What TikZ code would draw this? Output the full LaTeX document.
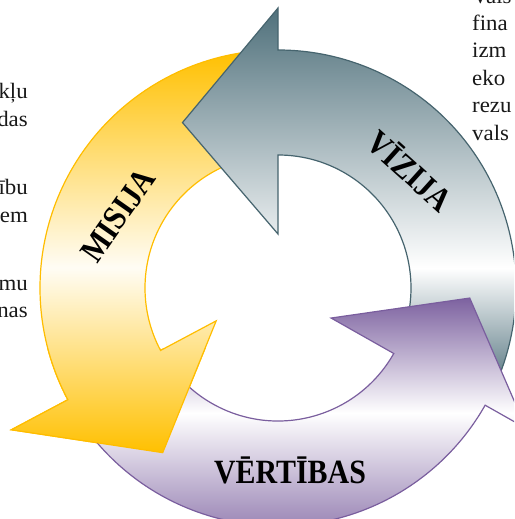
\documentclass[tikz,border=0pt]{standalone}
\usepackage{fontspec}
\setmainfont{Liberation Serif}
\newfontfamily\cyclefont[FakeStretch=0.88]{Liberation Serif}
\newfontfamily\bodyfont[FakeStretch=1.04]{Liberation Serif}
\usetikzlibrary{positioning}
\definecolor{Gold}{HTML}{FFC000}
\definecolor{GoldEdge}{HTML}{FFBD00}
\definecolor{Slate}{HTML}{4F707B}
\definecolor{SlateEdge}{HTML}{46646E}
\definecolor{Plum}{HTML}{7D62A0}
\definecolor{PlumEdge}{HTML}{7A5E9E}
\pgfdeclareverticalshading{goldshade}{100bp}{color(0bp)=(Gold); color(25bp)=(Gold); color(48bp)=(white!96!Gold); color(75bp)=(Gold); color(100bp)=(Gold)}
\pgfdeclareverticalshading{slateshade}{100bp}{color(0bp)=(Slate); color(25bp)=(Slate); color(41bp)=(white); color(75bp)=(Slate); color(100bp)=(Slate)}
\pgfdeclareverticalshading{plumshade}{100bp}{color(0bp)=(Plum); color(25bp)=(Plum); color(53bp)=(white); color(75bp)=(Plum); color(100bp)=(Plum)}
\newcommand{\ringarrow}[6]{(#1:238) arc[start angle=#1,end angle=#2,radius=238] -- (#2:#4) -- (#3:#5) -- (#2:#6) -- (#2:133) arc[start angle=#2,end angle=#1,radius=133] -- cycle}

\begin{document}
\begin{tikzpicture}[x=1pt,y=1pt,
  goldarrow/.style={draw=GoldEdge,line width=1.2pt,shade,shading=goldshade},
  slatearrow/.style={draw=SlateEdge,line width=1.2pt,shade,shading=slateshade},
  plumarrow/.style={draw=PlumEdge,line width=1.2pt,shade,shading=plumshade},
  cyclelabel/.style={font=\cyclefont\bfseries\fontsize{34}{34}\selectfont,inner sep=0pt,text=black},
  bodyline/.style={font=\bodyfont\fontsize{22}{26}\selectfont,inner sep=0pt,text=black!90}]
\clip (-278,-231) rectangle (236,288);
\node[bodyline,anchor=base east] (l1) at (-250,189) {kļu};
\node[bodyline,anchor=base east] (l2) at (-250,161) {das};
\node[bodyline,anchor=base east] (l3) at (-250,93) {ību};
\node[bodyline,anchor=base east] (l4) at (-250,65) {em};
\node[bodyline,anchor=base east] (l5) at (-250,-2) {mu};
\node[bodyline,anchor=base east] (l6) at (-250,-30) {nas};
\node[bodyline,anchor=base west] (r1) at (194,284) {Vals};
\node[bodyline,anchor=base west] (r2) at (194,257.5) {fina};
\node[bodyline,anchor=base west] (r3) at (194,230) {izm};
\node[bodyline,anchor=base west] (r4) at (194,202.5) {eko};
\node[bodyline,anchor=base west] (r5) at (194,175) {rezu};
\node[bodyline,anchor=base west] (r6) at (194,147.5) {vals};
\path[goldarrow] \ringarrow{94}{208}{235}{302}{201}{70};
\path[slatearrow] \ringarrow{-25.5}{90}{120}{280}{191}{54};
\path[plumarrow] \ringarrow{212}{330.5}{357}{285}{192}{61};
\begin{scope}
\clip (-278,-231) rectangle (0,-60);
\path[goldarrow] \ringarrow{94}{208}{235}{302}{201}{70};
\end{scope}
\node[cyclelabel,rotate=55] (misija) at (-160,73) {MISIJA};
\node[cyclelabel,rotate=-42] (vizija) at (133,118) {VĪZIJA};
\node[cyclelabel] (vertibas) at (12,-182) {VĒRTĪBAS};
\end{tikzpicture}
\end{document}
